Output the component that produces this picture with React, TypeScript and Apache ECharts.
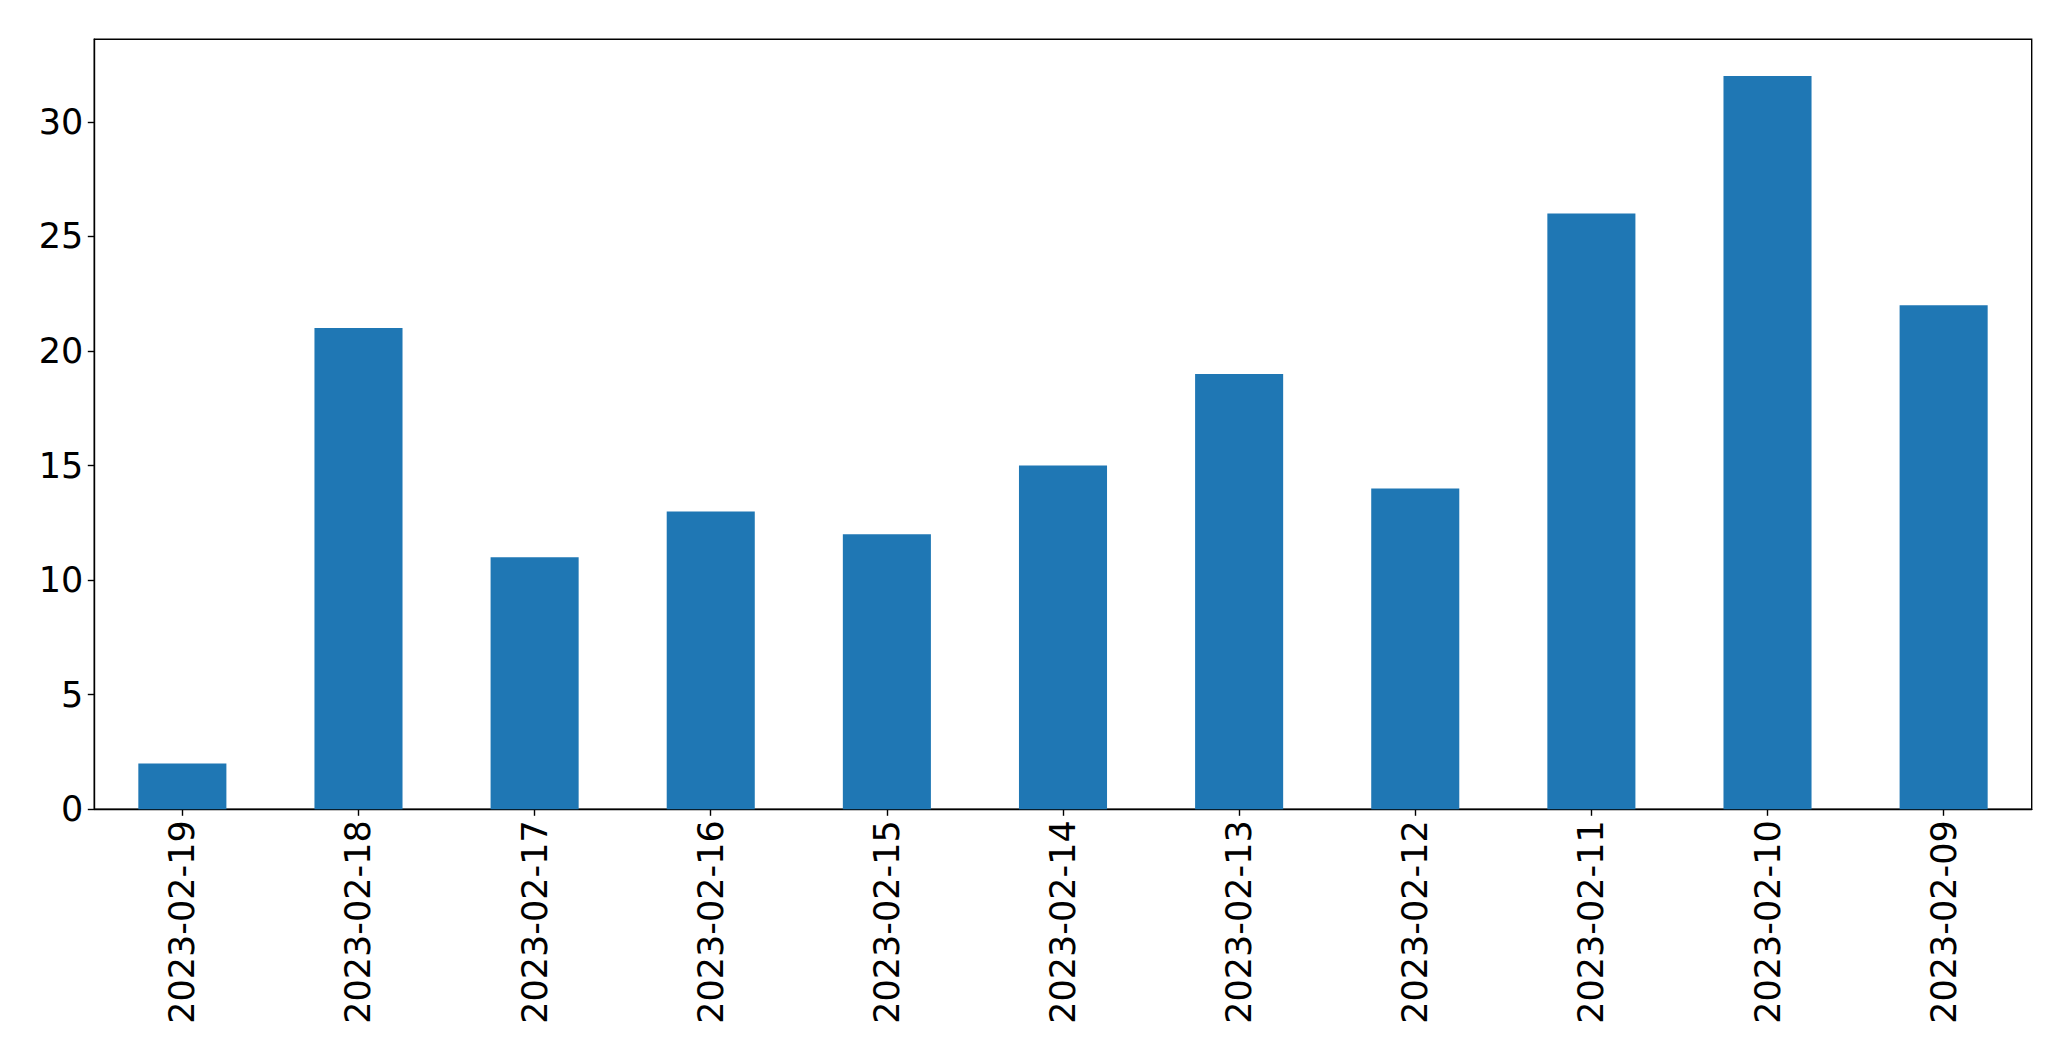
import React, { useEffect, useRef } from "react";
import * as echarts from "echarts";

const categories = [
  "2023-02-19", "2023-02-18", "2023-02-17", "2023-02-16", "2023-02-15", "2023-02-14",
  "2023-02-13", "2023-02-12", "2023-02-11", "2023-02-10", "2023-02-09",
];
const values = [2, 21, 11, 13, 12, 15, 19, 14, 26, 32, 22];
const yMin = 0;
const yMax = 33.6;
const yInterval = 5;

export default function App() {
  const ref = useRef<HTMLDivElement>(null);
  useEffect(() => {
    if (!ref.current) return;
    const chart = echarts.init(ref.current, undefined, { renderer: "svg" });
    const font = "DejaVu Sans";
    chart.setOption({
      animation: false,
      backgroundColor: "#ffffff",
      grid: {
        left: 94.3,
        top: 39.3,
        right: 39.3,
        bottom: 251.7,
        containLabel: false,
        show: true,
        borderColor: "#000000",
        borderWidth: 1.4,
        backgroundColor: "transparent",
      },
      xAxis: {
        type: "category",
        data: categories,
        boundaryGap: true,
        axisLine: { show: true, lineStyle: { color: "#000", width: 1.4 } },
        axisTick: { show: true, alignWithLabel: true, length: 6.5, lineStyle: { color: "#000", width: 1.4 } },
        axisLabel: {
          rotate: 90,
          fontFamily: font,
          fontSize: 35,
          color: "#000",
          margin: 11,
          interval: 0,
        },
        splitLine: { show: false },
      },
      yAxis: {
        type: "value",
        min: yMin,
        max: yMax,
        interval: yInterval,
        axisLine: { show: true, lineStyle: { color: "#000", width: 1.4 } },
        axisTick: { show: true, length: 6.5, lineStyle: { color: "#000", width: 1.4 } },
        axisLabel: {
          fontFamily: font,
          fontSize: 35,
          color: "#000",
          margin: 11,
          showMaxLabel: false,
        },
        splitLine: { show: false },
      },
      series: [
        {
          type: "bar",
          data: values,
          barWidth: "50%",
          itemStyle: { color: "#1f77b4" },
        },
      ],
    });
    return () => chart.dispose();
  }, []);
  return (
    <div
      ref={ref}
      style={{ position: "fixed", left: 0, top: 0, width: 2071, height: 1061 }}
    />
  );
}
